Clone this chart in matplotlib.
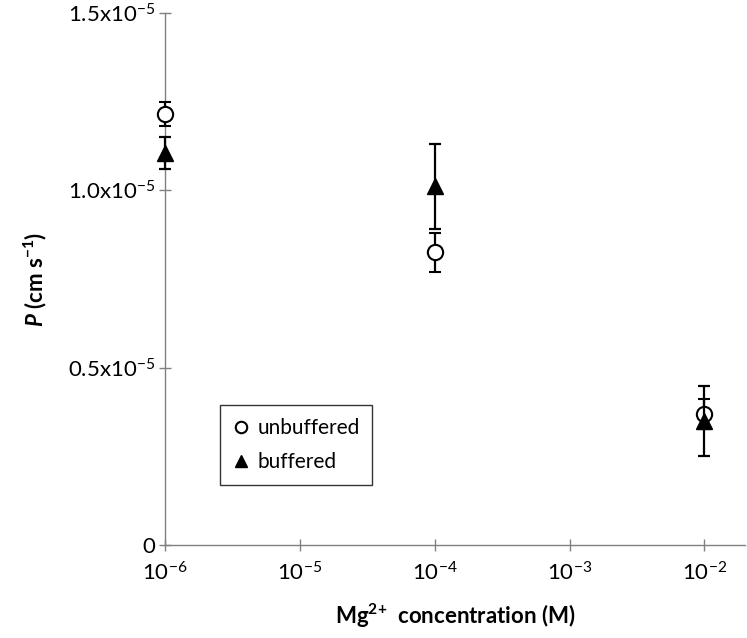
import matplotlib
matplotlib.use("Agg")
import matplotlib.pyplot as plt
from matplotlib.ticker import FixedLocator, NullLocator, FixedFormatter

# Datos
conc = [1e-6, 1e-4, 1e-2]
unbuf = [1.215e-5, 0.825e-5, 0.370e-5]
unbuf_err = [0.033e-5, 0.056e-5, 0.042e-5]
buf = [1.105e-5, 1.011e-5, 0.350e-5]
buf_err = [0.045e-5, 0.119e-5, 0.099e-5]

xticks = [1e-6, 1e-5, 1e-4, 1e-3, 1e-2]
xticklabels = ["10$^{-6}$", "10$^{-5}$", "10$^{-4}$", "10$^{-3}$", "10$^{-2}$"]
yticks = [0, 0.5e-5, 1.0e-5, 1.5e-5]
yticklabels = ["0", "0.5x10$^{-5}$", "1.0x10$^{-5}$", "1.5x10$^{-5}$"]

plt.rcParams.update({
    "font.family": ["Lato", "DejaVu Sans"],
    "font.size": 16,
    "mathtext.fontset": "custom",
    "mathtext.rm": "Lato",
    "mathtext.it": "Lato:italic",
    "mathtext.bf": "Lato:bold",
    "mathtext.bfit": "Lato:bold:italic",
    "mathtext.default": "regular",
})

fig = plt.figure(figsize=(7.47, 6.38), dpi=100)
ax = fig.add_axes([165 / 747, 93 / 638, 580 / 747, 532 / 638])

eb1 = ax.errorbar(conc, unbuf, yerr=unbuf_err, fmt="o", mfc="white", mec="black",
                  mew=1.5, ms=11, color="black", ecolor="black", elinewidth=1.6,
                  capsize=4, capthick=1.6, label="unbuffered", zorder=3)
eb2 = ax.errorbar(conc, buf, yerr=buf_err, fmt="^", mfc="black", mec="black",
                  ms=12, color="black", ecolor="black", elinewidth=1.6,
                  capsize=4, capthick=1.6, label="buffered", zorder=4)
# sin recorte en el eje y (puntos en 10^-6)
for eb in (eb1, eb2):
    for art in eb.get_children():
        art.set_clip_on(False)

ax.set_xscale("log")
ax.set_xlim(1e-6, 2e-2)
ax.set_ylim(0, 1.5e-5)
ax.xaxis.set_major_locator(FixedLocator(xticks))
ax.xaxis.set_major_formatter(FixedFormatter(xticklabels))
ax.xaxis.set_minor_locator(NullLocator())
ax.set_yticks(yticks)
ax.set_yticklabels(yticklabels)

for s in ("top", "right"):
    ax.spines[s].set_visible(False)
for s in ("left", "bottom"):
    ax.spines[s].set_color("#808080")
    ax.spines[s].set_linewidth(1.0)
    ax.spines[s].set_zorder(1)
ax.tick_params(axis="both", direction="inout", length=8, width=1.0,
               color="#808080", labelsize=16, pad=3)
ax.tick_params(axis="x", pad=8)

ax.set_xlabel("$\\mathbf{Mg^{2{+}}}$  concentration (M)", fontsize=16,
              fontweight="bold", labelpad=12)
ax.set_ylabel("$\\mathbfit{P}$ (cm s$\\mathbf{^{-1}}$)", fontsize=16,
              fontweight="bold", labelpad=14)

handles, labels = ax.get_legend_handles_labels()
handles = [h[0] for h in handles]
leg = ax.legend(handles, labels, loc="lower left",
                bbox_to_anchor=(0.095, 0.113), fontsize=15, frameon=True,
                fancybox=False, edgecolor="black", handlelength=0.8,
                handletextpad=0.4, borderpad=0.6, labelspacing=0.7,
                markerscale=0.75, borderaxespad=0)
leg.get_frame().set_linewidth(1.0)

fig.savefig("out.png", dpi=100, facecolor="white")
